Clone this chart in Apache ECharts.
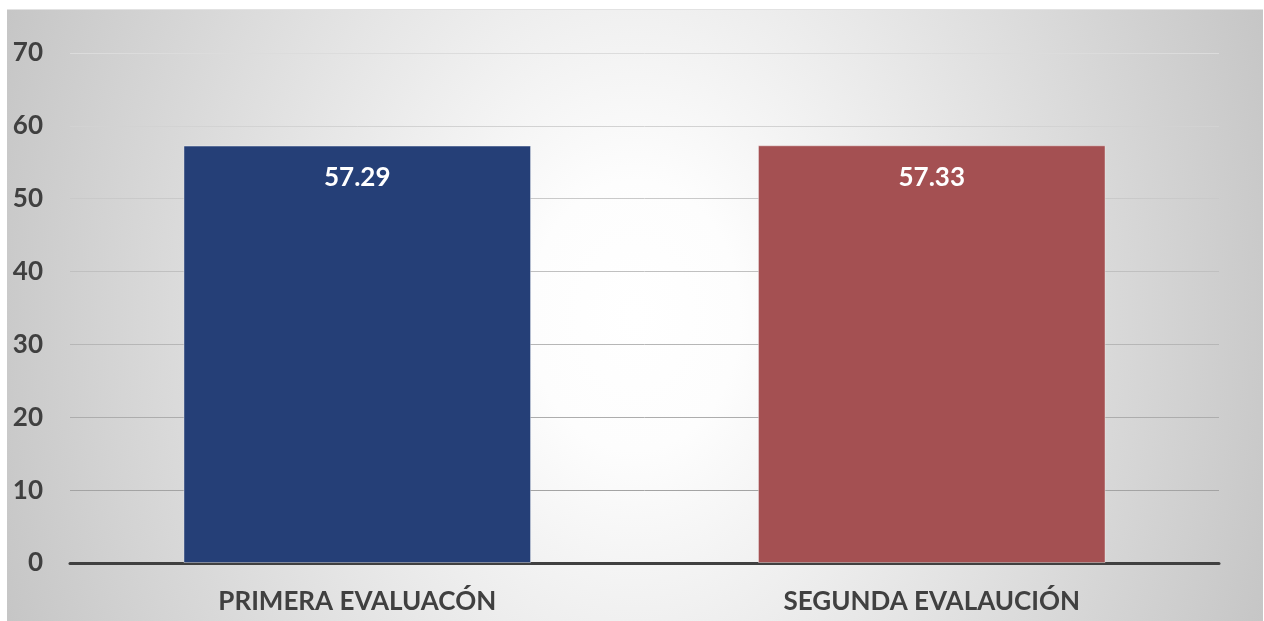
<!DOCTYPE html>
<html><head><meta charset="utf-8">
<script src="https://cdn.jsdelivr.net/npm/echarts@6/dist/echarts.min.js"></script>
<style>
html,body{margin:0;padding:0;background:#fff;}
#wrap{position:relative;width:1264px;height:621px;}
#bg{position:absolute;left:7px;top:9px;width:1256px;height:612px;box-sizing:border-box;border-top:1px solid #e2e2e2;
  background:radial-gradient(ellipse 700px 900px at 50% 50%, #ffffff 0%, #fdfdfd 15%, #c3c3c3 100%);}
#c{position:absolute;left:0;top:0;width:1264px;height:621px;}
</style>
</head><body><div id="wrap"><div id="bg"></div><div id="c"></div></div>
<script>
const categories = ['PRIMERA EVALUACÓN', 'SEGUNDA EVALAUCIÓN'];
const values = [57.29, 57.33];
const barColors = ['#253F77', '#A45052'];
const yTicks = [0, 10, 20, 30, 40, 50, 60, 70];

const chart = echarts.init(document.getElementById('c'));
chart.setOption({
  animation: false,
  backgroundColor: 'transparent',
  grid: {left: 70, right: 45, top: 53, bottom: 58},
  xAxis: {
    type: 'category', data: categories,
    axisLine: {lineStyle: {color: '#404040', width: 3}},
    axisTick: {show: false},
    axisLabel: {color: '#404040', fontFamily: 'Lato', fontWeight: 'bold', fontSize: 26, margin: 26}
  },
  yAxis: {
    type: 'value', min: 0, max: 70, interval: 10,
    axisLine: {show: false}, axisTick: {show: false},
    splitLine: {lineStyle: {
      color: new echarts.graphic.LinearGradient(0, 53, 0, 563, [
        {offset: 0, color: '#dcdcdc'}, {offset: 1, color: '#9a9a9a'}
      ], true),
      width: 1}},
    axisLabel: {color: '#404040', fontFamily: 'Lato', fontWeight: 'bold', fontSize: 26, margin: 27,
      formatter: v => yTicks.includes(v) ? String(v) : ''}
  },
  series: [{
    type: 'bar', barCategoryGap: '39.5%',
    data: values.map((v, i) => ({value: v, itemStyle: {color: barColors[i]}})),
    itemStyle: {borderColor: 'rgba(255,255,255,0.4)', borderWidth: 1},
    label: {show: true, position: 'insideTop', distance: 19, color: '#ffffff',
      fontFamily: 'Lato', fontWeight: 'bold', fontSize: 26,
      formatter: p => p.value.toFixed(2)}
  }]
});
</script></body></html>
